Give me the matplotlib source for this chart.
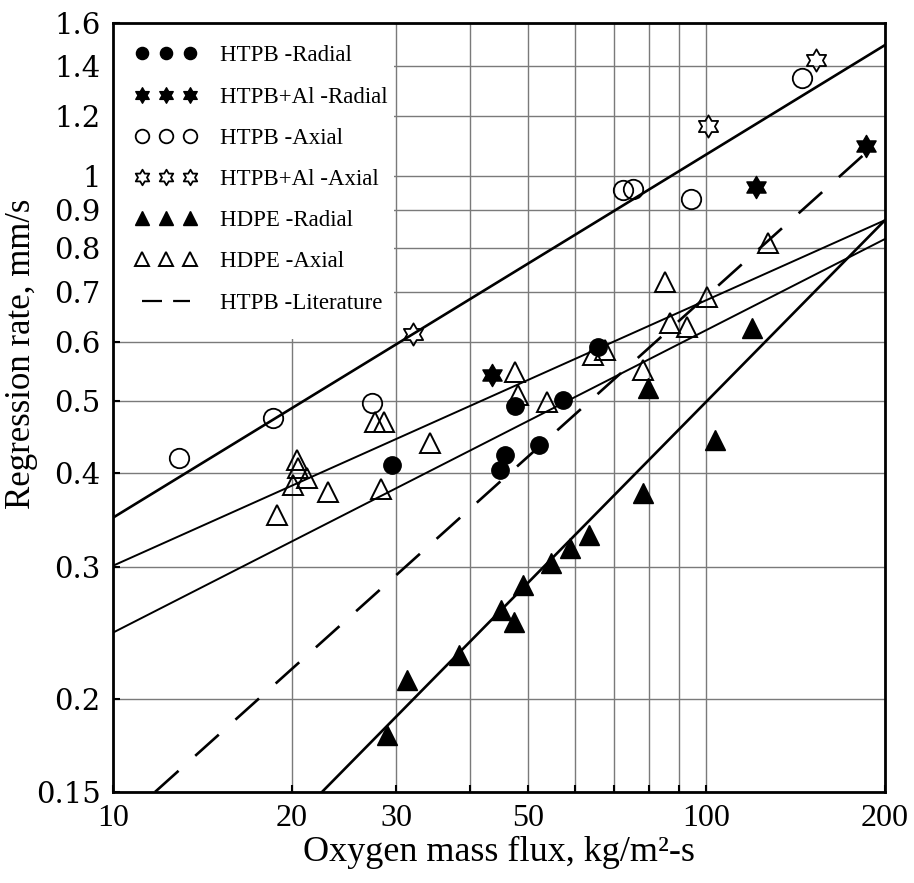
import numpy as np
import matplotlib
matplotlib.use("Agg")
import matplotlib.pyplot as plt
from matplotlib.path import Path
from matplotlib.lines import Line2D
from matplotlib.patches import Rectangle
from matplotlib.ticker import FixedLocator, FixedFormatter, NullFormatter

plt.rcParams['font.family'] = 'serif'
plt.rcParams['font.serif'] = ['Liberation Serif', 'DejaVu Serif']

# measured points (oxygen mass flux kg/m2-s, regression rate mm/s)
htpb_rad_x = [29.5, 44.9, 45.8, 47.6, 52.2, 57.3, 65.7]
htpb_rad_y = [0.410, 0.404, 0.423, 0.492, 0.436, 0.501, 0.590]

htpbal_rad_x = [43.5, 121.2, 185.8]
htpbal_rad_y = [0.541, 0.966, 1.096]

htpb_ax_x = [12.9, 18.6, 27.3, 72.4, 75.2, 94.2, 144.9]
htpb_ax_y = [0.419, 0.474, 0.497, 0.957, 0.961, 0.931, 1.351]

htpbal_ax_x = [32.0, 100.6, 153.0]
htpbal_ax_y = [0.614, 1.165, 1.428]

hdpe_rad_x = [28.95, 31.3, 38.3, 45.1, 47.4, 49.1, 54.7, 58.9, 63.4, 78.2, 79.7, 103.4, 119.4]
hdpe_rad_y = [0.179, 0.212, 0.229, 0.263, 0.253, 0.284, 0.304, 0.318, 0.331, 0.377, 0.520, 0.443, 0.626]

hdpe_ax_x = [18.9, 20.4, 20.5, 20.1, 21.2, 23.0, 28.3, 27.6, 28.6, 34.2, 47.6, 48.1,
             53.9, 64.4, 67.5, 78.2, 85.2, 86.8, 92.7, 100.2, 127.0]
hdpe_ax_y = [0.352, 0.417, 0.407, 0.386, 0.394, 0.378, 0.381, 0.468, 0.468, 0.439, 0.547, 0.509,
             0.498, 0.576, 0.585, 0.550, 0.721, 0.636, 0.628, 0.688, 0.813]

# fitted power-law lines (end points)
fit_top_x, fit_top_y = [10, 200], [0.349, 1.495]
fit_mid_x, fit_mid_y = [10, 200], [0.301, 0.872]
fit_low_x, fit_low_y = [10, 200], [0.245, 0.823]
fit_hdpe_x, fit_hdpe_y = [22.5, 200], [0.15, 0.872]
lit_x, lit_y = [11.77, 185], [0.15, 1.07]

x_ticks = [10, 20, 30, 50, 100, 200]
x_minor = [40, 60, 70, 80, 90]
y_ticks = [0.15, 0.2, 0.3, 0.4, 0.5, 0.6, 0.7, 0.8, 0.9, 1.0, 1.2, 1.4, 1.6]
y_labels = ['0.15', '0.2', '0.3', '0.4', '0.5', '0.6', '0.7', '0.8', '0.9', '1', '1.2', '1.4', '1.6']

# six pointed star marker
ang = np.pi / 2 + np.arange(12) * np.pi / 6
rad = np.where(np.arange(12) % 2 == 0, 1.0, 1 / np.sqrt(3))
star_verts = np.column_stack([rad * np.cos(ang), rad * np.sin(ang)])
star = Path(np.vstack([star_verts, star_verts[:1]]), closed=True)

fig = plt.figure(figsize=(9.14, 8.83), dpi=100)
ax = fig.add_axes([113 / 914, 1 - 792 / 883, 772 / 914, 769 / 883])
ax.set_xscale('log')
ax.set_yscale('log')
ax.set_xlim(10, 200)
ax.set_ylim(0.15, 1.6)

ax.xaxis.set_major_locator(FixedLocator(x_ticks))
ax.xaxis.set_major_formatter(FixedFormatter([str(v) for v in x_ticks]))
ax.xaxis.set_minor_locator(FixedLocator(x_minor))
ax.xaxis.set_minor_formatter(NullFormatter())
ax.yaxis.set_major_locator(FixedLocator(y_ticks))
ax.yaxis.set_major_formatter(FixedFormatter(y_labels))
ax.yaxis.set_minor_formatter(NullFormatter())
ax.yaxis.set_minor_locator(FixedLocator([]))

ax.grid(True, which='both', color='#7a7a7a', lw=1.0)
ax.set_axisbelow(True)
ax.tick_params(which='both', direction='in', length=5, width=1.5, top=False, right=False)
ax.tick_params(axis='x', labelsize=23, pad=9)
ax.tick_params(axis='y', pad=9)
for lab in ax.get_yticklabels():
    lab.set_fontfamily('DejaVu Serif')
    lab.set_fontsize(21)
for s in ax.spines.values():
    s.set_linewidth(2.0)

# white area behind legend
ax.add_patch(Rectangle((10, 0.605), 19.7, 1.0, facecolor='white', edgecolor='none', zorder=1))

ax.plot(fit_top_x, fit_top_y, color='black', lw=1.9, zorder=3)
ax.plot(fit_mid_x, fit_mid_y, color='black', lw=1.4, zorder=3)
ax.plot(fit_low_x, fit_low_y, color='black', lw=1.4, zorder=3)
ax.plot(fit_hdpe_x, fit_hdpe_y, color='black', lw=1.9, zorder=3)
ax.plot(lit_x, lit_y, color='black', lw=1.9, dashes=(12, 8.5), zorder=3)

mk = dict(ls='none', color='black', zorder=4)
ax.plot(htpb_rad_x, htpb_rad_y, marker='o', ms=12.5, label='HTPB -Radial', **mk)
ax.plot(htpbal_rad_x, htpbal_rad_y, marker=star, ms=16, label='HTPB+Al -Radial', **mk)
ax.plot(htpb_ax_x, htpb_ax_y, marker='o', ms=14, mfc='none', mew=1.3, label='HTPB -Axial', **mk)
ax.plot(htpbal_ax_x, htpbal_ax_y, marker=star, ms=16, mfc='none', mew=1.3, label='HTPB+Al -Axial', **mk)
ax.plot(hdpe_rad_x, hdpe_rad_y, marker='^', ms=14, label='HDPE -Radial', **mk)
ax.plot(hdpe_ax_x, hdpe_ax_y, marker='^', ms=14, mfc='none', mew=1.4, label='HDPE -Axial', **mk)

handles, labels = ax.get_legend_handles_labels()
handles.append(Line2D([], [], color='black', lw=1.6, dashes=(9, 5)))
labels.append('HTPB -Literature')
ax.legend(handles, labels, loc='upper left', bbox_to_anchor=(0.029, 0.971), frameon=False,
          numpoints=3, markerscale=0.7, fontsize=16.5, handlelength=2.7, handletextpad=1.0,
          labelspacing=0.88, borderpad=0, borderaxespad=0)

ax.set_xlabel('Oxygen mass flux, kg/m²-s', fontsize=26, labelpad=2)
ax.set_ylabel('Regression rate, mm/s', fontsize=25)
ax.yaxis.set_label_coords(-0.097, 0.57)

fig.savefig('out.png', dpi=100)
